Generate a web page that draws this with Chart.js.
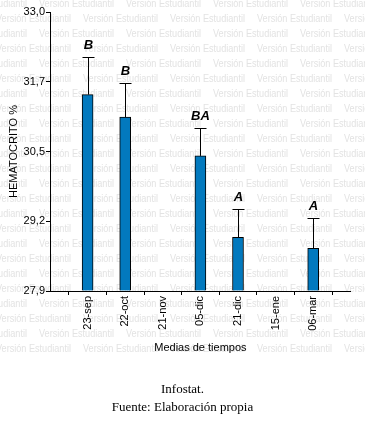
<!DOCTYPE html>
<html>
<head>
<meta charset="utf-8">
<script src="https://cdn.jsdelivr.net/npm/chart.js"></script>
<style>
body { margin: 0; background: #fff; }
#wrap { position: relative; width: 365px; height: 421px; }
#hema { display: block; }
.cap { position: absolute; left: 0; width: 365px; text-align: center; font-family: "Liberation Serif", "Times New Roman", serif; font-size: 13px; line-height: 15px; color: #000; }
</style>
</head>
<body>
<div id="wrap">
<canvas id="hema" width="365" height="421"></canvas>
<div class="cap" style="top:381px">Infostat.</div>
<div class="cap" style="top:399px">Fuente: Elaboración propia</div>
</div>
<script>
var fechas = ['23-sep', '22-oct', '21-nov', '05-dic', '21-dic', '15-ene', '06-mar'];
var medias = [31.49, 31.08, null, 30.37, 28.88, null, 28.68];
var limSup = [32.17, 31.70, null, 30.88, 29.39, null, 29.24];
var letras = ['B', 'B', '', 'BA', 'A', '', 'A'];
var yTicks = ['27,9', '29,2', '30,5', '31,7', '33,0'];
var yMin = 27.9, yMax = 33.0;

// fondo con la marca de agua de InfoStat
var marcaAgua = {
    id: 'marcaAgua',
    beforeDraw: function(chart) {
        var ctx = chart.ctx;
        ctx.save();
        ctx.fillStyle = '#fff';
        ctx.fillRect(0, 0, chart.width, chart.height);
        ctx.fillStyle = '#e3e3e3';
        ctx.font = '11px Arial';
        ctx.textBaseline = 'middle';
        ctx.textAlign = 'left';
        for (var r = 0; r < 24; r++) {
            var yy = 3.5 + r * 15;
            var x0 = (r % 2 === 0) ? -48 : -4;
            for (var xx = x0; xx < chart.width; xx += 87) {
                ctx.fillText('Versión Estudiantil', xx, yy, 75);
            }
        }
        ctx.restore();
    }
};

// barras de error (solo hacia arriba) y letras de Tukey
var barrasError = {
    id: 'barrasError',
    afterDatasetsDraw: function(chart) {
        var ctx = chart.ctx, sx = chart.scales.x, sy = chart.scales.y;
        ctx.save();
        ctx.strokeStyle = '#000';
        ctx.fillStyle = '#000';
        ctx.lineWidth = 1;
        ctx.font = 'bold italic 13px Arial';
        ctx.textAlign = 'center';
        ctx.textBaseline = 'middle';
        fechas.forEach(function(f, i) {
            if (medias[i] === null) return;
            var px = Math.round(sx.getPixelForValue(i + 1)) + 0.5;
            var top = Math.round(sy.getPixelForValue(limSup[i])) + 0.5;
            var base = sy.getPixelForValue(medias[i]);
            ctx.beginPath();
            ctx.moveTo(px, base);
            ctx.lineTo(px, top);
            ctx.moveTo(px - 6, top);
            ctx.lineTo(px + 6, top);
            ctx.stroke();
            ctx.fillText(letras[i], px, top - 12);
        });
        ctx.restore();
    }
};

new Chart(document.getElementById('hema'), {
    type: 'bar',
    data: {
        labels: [''].concat(fechas, ['']),
        datasets: [{
            data: [null].concat(medias, [null]),
            base: yMin,
            backgroundColor: '#0279BE',
            borderColor: '#000',
            borderWidth: 1,
            barThickness: 11
        }]
    },
    options: {
        responsive: false,
        animation: false,
        layout: { padding: { top: 12, right: 10, left: 0, bottom: 0 } },
        plugins: { legend: { display: false }, tooltip: { enabled: false } },
        scales: {
            x: {
                offset: false,
                grid: { display: true, drawOnChartArea: false, drawTicks: true, tickLength: 4, color: '#000' },
                border: { color: '#000' },
                ticks: { color: '#000', font: { family: 'Arial', size: 11 }, minRotation: 90, maxRotation: 90, autoSkip: false, padding: 1 },
                title: { display: true, text: 'Medias de tiempos', color: '#000', font: { family: 'Arial', size: 11 }, padding: { top: 0, bottom: 66 } },
                afterFit: function(s) { s.height = 130; }
            },
            y: {
                min: yMin,
                max: yMax,
                afterBuildTicks: function(s) {
                    s.ticks = yTicks.map(function(t, i) {
                        return { value: yMin + i * (yMax - yMin) / (yTicks.length - 1) };
                    });
                },
                grid: { display: true, drawOnChartArea: false, drawTicks: true, tickLength: 4, color: '#000' },
                border: { color: '#000' },
                ticks: {
                    color: '#000', font: { family: 'Arial', size: 11 }, padding: 1,
                    callback: function(v, i) { return yTicks[i]; }
                },
                title: { display: true, text: 'HEMATOCRITO %', color: '#000', font: { family: 'Arial', size: 11 }, padding: { top: 7, bottom: 0 } },
                afterFit: function(s) { s.width = 50; }
            }
        }
    },
    plugins: [marcaAgua, barrasError]
});
</script>
</body>
</html>
